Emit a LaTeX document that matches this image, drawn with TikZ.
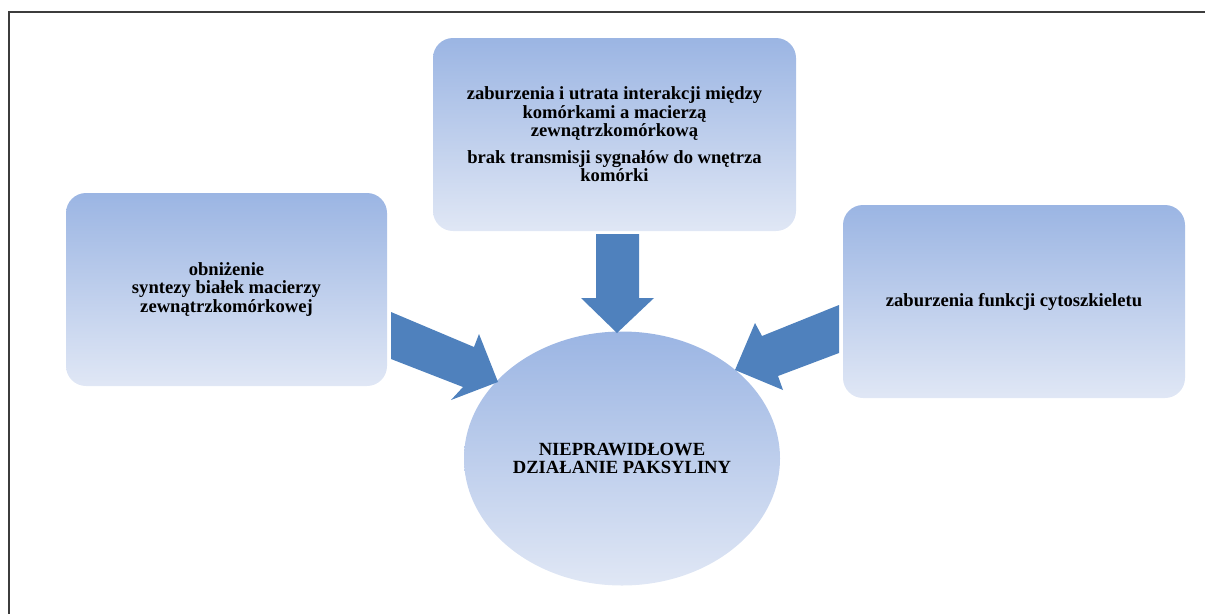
\documentclass[tikz,border=0pt]{standalone}
\usepackage{fontspec}
\setmainfont{Liberation Serif}
\usetikzlibrary{shapes.geometric}
\definecolor{arrowblue}{RGB}{79,129,189}
\definecolor{shadetop}{RGB}{155,181,227}
\definecolor{shadebot}{RGB}{224,231,245}
\definecolor{frameline}{RGB}{60,60,60}
\tikzset{
  txt/.style={align=center, font=\bfseries\fontsize{18.6}{18.3}\selectfont},
  box/.style={rounded corners=20pt, top color=shadetop, bottom color=shadebot, draw=none,
    txt, inner sep=0pt},
  blob/.style={ellipse, top color=shadetop, bottom color=shadebot, draw=none,
    txt, inner sep=0pt},
  blockarrow/.style={fill=arrowblue, draw=none},
  frame/.style={draw=frameline, line width=1.8pt}
}
\begin{document}
\begin{tikzpicture}[x=1pt,y=-1pt]
\useasboundingbox (0,0) rectangle (1205,614);
\coordinate (tl) at (9,12);
\coordinate (tr) at (1205,12);
\coordinate (bl) at (9,614);
\draw[frame] (tr) -- (tl) -- (bl);

\node[box, minimum width=363pt, minimum height=193pt] (top) at (614.5,134.5) {};
\node[txt] (toptext) at (614.5,134.5)
  {zaburzenia i utrata interakcji między\\komórkami a macierzą\\zewnątrzkomórkową\\[9pt]brak transmisji sygnałów do wnętrza\\komórki};

\node[box, minimum width=321pt, minimum height=193pt] (left) at (226.5,289.5)
  {obniżenie\\syntezy białek macierzy\\zewnątrzkomórkowej};

\node[box, minimum width=342pt, minimum height=193pt] (right) at (1014,301.5)
  {zaburzenia funkcji cytoszkieletu};

\node[blob, minimum width=316pt, minimum height=254pt] (center) at (622,458.5)
  {NIEPRAWIDŁOWE\\DZIAŁANIE PAKSYLINY};

% block arrows
\fill[blockarrow] (596,234) -- (639,234) -- (639,298) -- (654,298) -- (617,333) -- (581,298) -- (596,298) -- cycle;
\fill[blockarrow] (391,312) -- (474,347) -- (479,334) -- (498,382) -- (451,400) -- (463,387) -- (391,359) -- cycle;
\fill[blockarrow] (839,305) -- (762,336) -- (755,323) -- (735,370) -- (783,390) -- (778,376) -- (839,353) -- cycle;
\end{tikzpicture}
\end{document}
